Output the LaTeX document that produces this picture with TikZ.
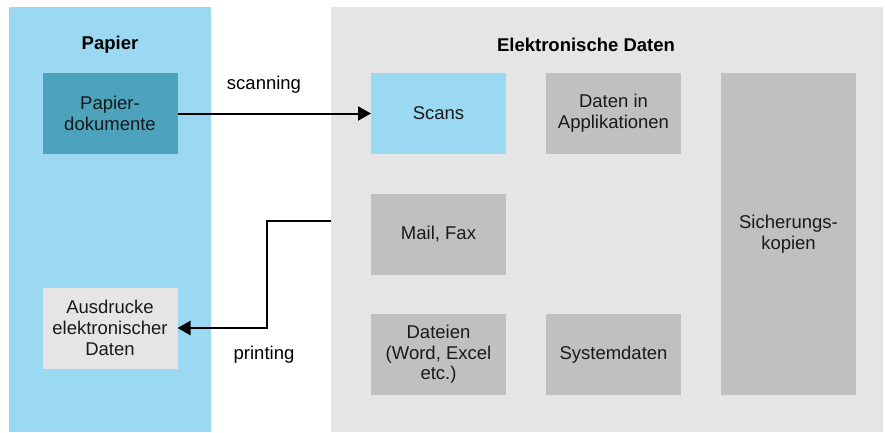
\documentclass[tikz,border=0pt]{standalone}
\usepackage{fontspec}
\setmainfont{Liberation Sans}
\usetikzlibrary{arrows.meta}
\definecolor{lblue}{HTML}{9BD9F3}
\definecolor{teal}{HTML}{4DA3BC}
\definecolor{lgray}{HTML}{E5E5E5}
\definecolor{mgray}{HTML}{C0C0C0}
\tikzset{
  panel/.style={draw=none, inner sep=0pt, outer sep=0pt},
  box/.style={draw=none, inner sep=0pt, outer sep=0pt, minimum width=135pt, minimum height=81pt, align=center, text=black!90},
  lbl/.style={inner sep=0pt, font=\fontsize{18.5}{21}\selectfont},
  conn/.style={line width=2pt, -{Triangle[length=13pt,width=14pt]}}
}
\begin{document}
\begin{tikzpicture}[x=1pt,y=-1pt, every node/.style={font=\fontsize{18.5}{20.7}\selectfont}]
\useasboundingbox (0,0) rectangle (885,432);
\fill[white] (0,0) rectangle (885,432);
% panels
\node[panel, fill=lblue, minimum width=202pt, minimum height=425pt] (papier) at (110,219.5) {};
\node[panel, fill=lgray, minimum width=552pt, minimum height=425pt] (elek) at (607,219.5) {};
% titles
\node[lbl, font=\fontsize{18.5}{21}\selectfont\bfseries] (t1) at (110,45) {Papier};
\node[lbl, font=\fontsize{18.5}{21}\selectfont\bfseries] (t2) at (586,45) {Elektronische Daten};
% boxes
\node[box, fill=teal] (pd) at (110,113.5) {Papier-\\dokumente};
\node[box, fill=lgray] (aus) at (110,328) {Ausdrucke\\elektronischer\\Daten};
\node[box, fill=lblue] (scans) at (438.5,113.5) {Scans};
\node[box, fill=mgray] (dia) at (613.5,113.5) {Daten in\\Applikationen};
\node[box, fill=mgray] (mail) at (438.5,234) {Mail, Fax};
\node[box, fill=mgray] (dat) at (438.5,354.5) {Dateien\\(Word, Excel\\etc.)};
\node[box, fill=mgray] (sys) at (613.5,354.5) {Systemdaten};
\node[box, fill=mgray, minimum height=322pt] (sich) at (788.5,234) {Sicherungs-\\kopien};
% labels
\node[lbl] (scanning) at (264,85) {scanning};
\node[lbl] (printing) at (264,355) {printing};
% connectors
\draw[conn] (pd.east) -- (scans.west);
\coordinate (p0) at (331,221);
\draw[conn] (p0) -- (267,221) |- (aus.east);
\end{tikzpicture}
\end{document}
